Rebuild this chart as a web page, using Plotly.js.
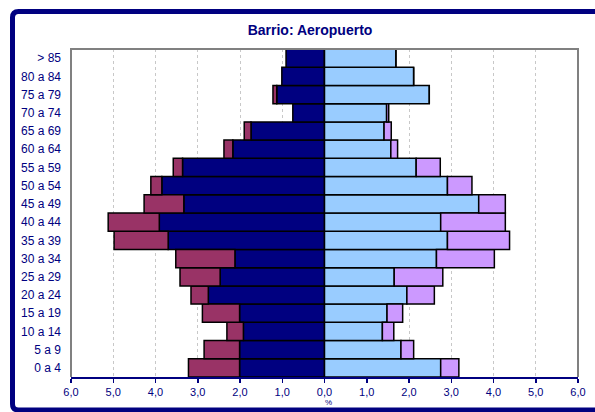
<!DOCTYPE html>
<html>
<head>
<meta charset="utf-8">
<script src="https://cdn.plot.ly/plotly-3.0.1.min.js"></script>
<style>html,body{margin:0;padding:0;background:#fff;}#chart{width:595px;height:412px;}</style>
</head>
<body>
<div id="chart"></div>
<script>
// Age groups (bottom to top)
const categories = ['0 a 4','5 a 9','10 a 14','15 a 19','20 a 24','25 a 29','30 a 34','35 a 39','40 a 44','45 a 49','50 a 54','55 a 59','60 a 64','65 a 69','70 a 74','75 a 79','80 a 84','> 85'];
// Men (left side), % of population
const menA = [2.01, 2.01, 1.92, 2.01, 2.75, 2.47, 2.12, 3.70, 3.91, 3.33, 3.85, 3.36, 2.17, 1.74, 0.75, 1.13, 1.01, 0.91];
const menB = [1.21, 0.84, 0.39, 0.88, 0.41, 0.95, 1.40, 1.28, 1.21, 0.94, 0.26, 0.22, 0.21, 0.16, 0.00, 0.09, 0.00, 0.00];
// Women (right side)
const womenA = [2.75, 1.81, 1.37, 1.48, 1.95, 1.65, 2.65, 2.91, 2.75, 3.65, 2.91, 2.17, 1.57, 1.41, 1.47, 2.48, 2.11, 1.69];
const womenB = [0.43, 0.30, 0.27, 0.37, 0.65, 1.15, 1.37, 1.47, 1.53, 0.63, 0.58, 0.57, 0.16, 0.17, 0.05, 0.00, 0.00, 0.00];
const tickVals = [-6,-5,-4,-3,-2,-1,0,1,2,3,4,5,6];
const tickText = ['6,0','5,0','4,0','3,0','2,0','1,0','0,0','1,0','2,0','3,0','4,0','5,0','6,0'];

const navy = '#000080';
const line = {color:'#000000', width:1.5};
const traces = [
  {type:'bar', orientation:'h', y:categories, x:menA.map(v=>-v), marker:{color:'#000080', line:line}, hoverinfo:'none'},
  {type:'bar', orientation:'h', y:categories, x:menB.map(v=>-v), marker:{color:'#993366', line:line}, hoverinfo:'none'},
  {type:'bar', orientation:'h', y:categories, x:womenA, marker:{color:'#99CCFF', line:line}, hoverinfo:'none'},
  {type:'bar', orientation:'h', y:categories, x:womenB, marker:{color:'#CC99FF', line:line}, hoverinfo:'none'}
];

const L = 71, R = 578, T = 49, B = 377;
const px = x => (x - L) / (R - L);
const py = y => (B - y) / (B - T);
const r = 6;
const fx0 = 12.5, fy0 = 11.5, fy1 = 410, fx1 = 640;
const framePath = 'M ' + px(fx1) + ' ' + py(fy0) +
  ' L ' + px(fx0 + r) + ' ' + py(fy0) +
  ' Q ' + px(fx0) + ' ' + py(fy0) + ' ' + px(fx0) + ' ' + py(fy0 + r) +
  ' L ' + px(fx0) + ' ' + py(fy1 - r) +
  ' Q ' + px(fx0) + ' ' + py(fy1) + ' ' + px(fx0 + r) + ' ' + py(fy1) +
  ' L ' + px(fx1) + ' ' + py(fy1);

const layout = {
  width:595, height:412,
  margin:{l:L, r:595-R, t:T, b:412-B},
  paper_bgcolor:'#ffffff', plot_bgcolor:'#ffffff',
  barmode:'relative', bargap:0,
  showlegend:false,
  font:{family:'Liberation Sans, Arial, sans-serif', color:navy, size:11},
  title:{text:'<b>Barrio: Aeropuerto</b>', font:{size:14, color:navy, family:'Liberation Sans, Arial, sans-serif'},
         xref:'container', yref:'container', x:310/595, y:1-30/412, xanchor:'center', yanchor:'middle'},
  xaxis:{range:[-6,6], tickvals:tickVals, ticktext:tickText, showgrid:true, gridcolor:'#c8c8c8', griddash:'dot', gridwidth:1,
         zeroline:false, showline:true, linecolor:navy, linewidth:2, ticks:'outside', ticklen:4, tickcolor:navy, tickwidth:1.5,
         tickfont:{size:11, color:navy}, fixedrange:true},
  yaxis:{type:'category', categoryorder:'array', categoryarray:categories, showgrid:false, zeroline:false, showline:false,
         ticks:'', ticklabelstandoff:9, tickfont:{size:12, color:navy}, fixedrange:true, automargin:false},
  shapes:[
    {type:'path', xref:'paper', yref:'paper', path:'M 0 0 L 0 1 L 1 1 L 1 0', line:{color:'#808080', width:2}},
    {type:'path', xref:'paper', yref:'paper', path:framePath, line:{color:navy, width:5}}
  ],
  annotations:[
    {text:'%', xref:'x', yref:'paper', x:0.1, y:py(402), xanchor:'center', yanchor:'middle', showarrow:false, font:{size:8, color:navy}}
  ]
};
Plotly.newPlot('chart', traces, layout, {displayModeBar:false, staticPlot:true});
</script>
</body>
</html>
